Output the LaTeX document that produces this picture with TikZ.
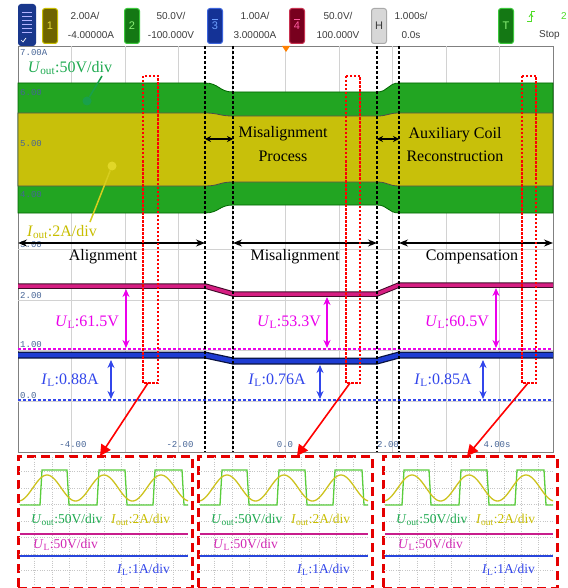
\documentclass[tikz,border=0pt]{standalone}
\usepackage{fontspec}
\setmainfont{Liberation Serif}
\newfontfamily\hdrfont{Liberation Sans}
\newfontfamily\axfont{Liberation Mono}
\usetikzlibrary{arrows.meta}
\definecolor{bandgreen}{RGB}{34,165,34}
\definecolor{bandyellow}{RGB}{200,192,10}
\definecolor{tracemag}{RGB}{214,30,130}
\definecolor{traceblue}{RGB}{30,60,210}
\definecolor{txtgreen}{RGB}{30,170,80}
\definecolor{txtyellow}{RGB}{200,190,0}
\definecolor{txtmag}{RGB}{235,0,235}
\definecolor{txtblue}{RGB}{50,70,235}
\definecolor{axcol}{RGB}{70,100,150}
\definecolor{gridcol}{RGB}{210,210,210}
\definecolor{hdrtxt}{RGB}{60,60,60}
\definecolor{sqgreen}{RGB}{90,205,60}
\definecolor{sinyellow}{RGB}{205,195,30}
\definecolor{iconblue}{RGB}{25,55,140}
\definecolor{c1fill}{RGB}{110,100,0}
\definecolor{c1draw}{RGB}{200,190,0}
\definecolor{c1text}{RGB}{230,220,60}
\definecolor{c2fill}{RGB}{20,120,20}
\definecolor{c2draw}{RGB}{60,200,60}
\definecolor{c2text}{RGB}{140,240,120}
\definecolor{c3fill}{RGB}{20,50,150}
\definecolor{c3draw}{RGB}{60,100,220}
\definecolor{c3text}{RGB}{110,160,255}
\definecolor{c4fill}{RGB}{120,0,30}
\definecolor{c4draw}{RGB}{200,50,80}
\definecolor{c4text}{RGB}{255,90,160}
\definecolor{chfill}{RGB}{215,215,215}
\definecolor{chdraw}{RGB}{170,170,170}
\definecolor{trigcol}{RGB}{80,220,40}
\definecolor{gdotcol}{RGB}{25,160,75}
\definecolor{ydotcol}{RGB}{225,215,40}
\definecolor{ylinecol}{RGB}{215,205,30}
\definecolor{inmag}{RGB}{200,30,140}
\definecolor{inblue}{RGB}{40,70,220}
\definecolor{inmagtxt}{RGB}{210,40,180}
\newcommand\myUout{\textit{U}\textsubscript{out}}
\newcommand\myIout{\textit{I}\textsubscript{out}}
\newcommand\myUL{\textit{U}\textsubscript{L}}
\newcommand\myIL{\textit{I}\textsubscript{L}}
\begin{document}
\begin{tikzpicture}[x=1pt,y=-1pt,
  lbl/.style={font=\fontsize{16}{18}\selectfont, inner sep=0},
  inlbl/.style={font=\fontsize{13.5}{15}\selectfont, inner sep=0},
  ax/.style={font=\axfont\fontsize{9}{10}\selectfont, text=axcol, inner sep=0},
  hdr/.style={font=\hdrfont\fontsize{10}{11}\selectfont, text=hdrtxt, inner sep=0},
  chbox/.style={rounded corners=2.5pt, minimum width=15pt, minimum height=35pt, inner sep=0, line width=1pt, font=\hdrfont\fontsize{11}{12}\selectfont, anchor=north west},
  blkdash/.style={black, line width=1.4pt, dash pattern=on 3pt off 2pt},
  reddot/.style={red, line width=1.2pt, dash pattern=on 2.5pt off 1.5pt},
  insetbox/.style={draw=red!90!black, line width=2.5pt, dash pattern=on 9pt off 5pt, fill=white, anchor=north west, inner sep=0, minimum width=174pt, minimum height=132pt},
  redarrow/.style={-{Triangle[length=11pt,width=11pt]}, red, line width=1.6pt},
  dblarrow/.style={{Stealth[length=9pt,width=7pt]}-{Stealth[length=9pt,width=7pt]}, line width=1.3pt},
  smallarrow/.style={{Stealth[length=6pt,width=6pt]}-{Stealth[length=6pt,width=6pt]}, line width=1.3pt},
  vmag/.style={{Stealth[length=8pt,width=7pt]}-{Stealth[length=8pt,width=7pt]}, line width=1.3pt, txtmag},
  vblue/.style={{Stealth[length=8pt,width=7pt]}-{Stealth[length=8pt,width=7pt]}, line width=1.3pt, txtblue}]
\useasboundingbox (0,0) rectangle (567,588);
\fill[white] (0,0) rectangle (567,588);
% ---------- header ----------
\fill[rounded corners=3pt, iconblue] (18,4) rectangle (36,46);
\foreach \yy in {12,16,20,24,28,32}{\draw[white!70!blue, line width=0.6pt] (22,\yy) -- (32,\yy);}
\draw[white, line width=0.7pt] (21,40) -- (23,42) -- (26,38);
\node[chbox, fill=c1fill, draw=c1draw, text=c1text] (b1) at (42,8) {1};
\node[hdr] (h1a) at (85,16) {2.00A/};
\node[hdr] (h1b) at (91,35) {-4.00000A};
\node[chbox, fill=c2fill, draw=c2draw, text=c2text] (b2) at (124,8) {2};
\node[hdr] (h2a) at (171,16) {50.0V/};
\node[hdr] (h2b) at (171,35) {-100.000V};
\node[chbox, fill=c3fill, draw=c3draw, text=c3text] (b3) at (207,8) {3};
\draw[c3text, line width=0.8pt] (212,19) -- (218,19);
\node[hdr] (h3a) at (255,16) {1.00A/};
\node[hdr] (h3b) at (255,35) {3.00000A};
\node[chbox, fill=c4fill, draw=c4draw, text=c4text] (b4) at (289,8) {4};
\draw[c4text, line width=0.8pt] (294,19) -- (300,19);
\node[hdr] (h4a) at (338,16) {50.0V/};
\node[hdr] (h4b) at (338,35) {100.000V};
\node[chbox, fill=chfill, draw=chdraw, text=hdrtxt] (bh) at (371,8) {H};
\node[hdr] (hha) at (411,16) {1.000s/};
\node[hdr] (hhb) at (411,35) {0.0s};
\node[chbox, fill=c2fill, draw=c2draw, text=c2text] (bt) at (498,8) {T};
\draw[trigcol, line width=0.8pt] (527,21) -- (531,21) -- (531,11) -- (535,11);
\draw[trigcol, line width=0.8pt] (529,17) -- (531,14) -- (533,17);
\node[hdr, text=trigcol] (htrig) at (564,16) {2};
\node[hdr, anchor=west] (hstop) at (539,35) {Stop};
% ---------- screen ----------
\draw[gray, line width=0.8pt] (18,46) rectangle (553,452);
\foreach \k in {1,...,9}{\draw[gridcol, line width=0.5pt] ({18+53.5*\k},46) -- ({18+53.5*\k},452);}
\foreach \k in {1,...,7}{\draw[gridcol, line width=0.5pt] (18,{46+50.75*\k}) -- (553,{46+50.75*\k});}
\fill[orange] (282,46) -- (290,46) -- (286,52) -- cycle;
% green band
\fill[bandgreen, draw=black!60!green, line width=0.8pt] (18,83) -- (205,83) .. controls (219,83) and (219,92) .. (233,92) -- (377,92) .. controls (388,92) and (388,83) .. (399,83) -- (553,83) -- (553,213) -- (399,213) .. controls (388,213) and (388,205) .. (377,205) -- (233,205) .. controls (219,205) and (219,213) .. (205,213) -- (18,213) -- cycle;
% yellow band
\fill[bandyellow, draw=black!70, line width=0.8pt] (18,113) -- (205,113) .. controls (219,113) and (219,116) .. (233,116) -- (377,116) .. controls (388,116) and (388,113) .. (399,113) -- (553,113) -- (553,186) -- (399,186) .. controls (388,186) and (388,182) .. (377,182) -- (233,182) .. controls (219,182) and (219,186) .. (205,186) -- (18,186) -- cycle;
% traces
\draw[black!70!tracemag, line width=5.5pt] (18,286) -- (205,286) -- (233,294) -- (377,294) -- (399,285) -- (553,285);
\draw[tracemag, line width=3.5pt] (18,286) -- (205,286) -- (233,294) -- (377,294) -- (399,285) -- (553,285);
\draw[black!70!traceblue, line width=7pt] (18,355) -- (205,355) -- (233,361) -- (377,361) -- (399,355) -- (553,355);
\draw[traceblue, line width=4.5pt] (18,355) -- (205,355) -- (233,361) -- (377,361) -- (399,355) -- (553,355);
\draw[txtmag, line width=1.3pt, dash pattern=on 3pt off 2pt] (18,349) -- (553,349);
\draw[txtblue, line width=1.3pt, dash pattern=on 3pt off 2pt] (18,400) -- (553,400);
% axis labels
\node[ax, anchor=west] (a7) at (20,53) {7.00A};
\node[ax, anchor=west] (a6) at (20,93) {6.00};
\node[ax, anchor=west] (a5) at (20,144) {5.00};
\node[ax, anchor=west] (a4) at (20,195) {4.00};
\node[ax, anchor=west] (a3) at (20,245) {3.00};
\node[ax, anchor=west] (a2) at (20,296) {2.00};
\node[ax, anchor=west] (a1) at (20,345) {1.00};
\node[ax, anchor=west] (a0) at (20,396) {0.0};
\node[ax] (t1) at (73,445) {-4.00};
\node[ax] (t2) at (180,445) {-2.00};
\node[ax] (t3) at (285,445) {0.0};
\node[ax] (t4) at (388,445) {2.00};
\node[ax] (t5) at (497,445) {4.00s};
% black dashed separators
\foreach \xx/\nm in {205/d1,233/d2,377/d3,399/d4}{
  \coordinate (\nm t) at (\xx,46); \coordinate (\nm b) at (\xx,452);
  \draw[blkdash] (\nm t) -- (\nm b);}
% horizontal region arrows
\coordinate (l0) at (18,243); \coordinate (l1) at (205,243);
\coordinate (l2) at (233,243); \coordinate (l3) at (377,243);
\coordinate (l4) at (399,243); \coordinate (l5) at (553,243);
\draw[dblarrow] (l0) -- (l1);
\draw[dblarrow] (l2) -- (l3);
\draw[dblarrow] (l4) -- (l5);
\coordinate (p0) at (205,139); \coordinate (p1) at (233,139);
\coordinate (p2) at (377,139); \coordinate (p3) at (399,139);
\draw[smallarrow] (p0) -- (p1);
\draw[smallarrow] (p2) -- (p3);
% labels top
\node[lbl, text=txtgreen] (uoutl) at (70,68) {\myUout:50V/div};
\node[lbl, text=txtyellow] (ioutl) at (62,232) {\myIout:2A/div};
\node[circle, fill=gdotcol, minimum size=9pt, inner sep=0] (gdot) at (87,101) {};
\coordinate (gend) at (102,76);
\draw[gdotcol, line width=1.5pt] (gdot) -- (gend);
\node[circle, fill=ydotcol, minimum size=9pt, inner sep=0] (ydot) at (112,166) {};
\coordinate (yend) at (90,222);
\draw[ylinecol, line width=1.5pt] (ydot) -- (yend);
\node[lbl] (mis1) at (283,134) {Misalignment};
\node[lbl] (mis2) at (283,156) {Process};
\node[lbl] (aux1) at (455,135) {Auxiliary Coil};
\node[lbl] (aux2) at (455,156) {Reconstruction};
\node[lbl] (alg) at (103,257) {Alignment};
\node[lbl] (misg) at (295,257) {Misalignment};
\node[lbl] (comp) at (472,257) {Compensation};
% UL / IL arrows
\coordinate (m1t) at (126,289); \coordinate (m1b) at (126,348);
\coordinate (m2t) at (327,297); \coordinate (m2b) at (327,348);
\coordinate (m3t) at (496,288); \coordinate (m3b) at (496,348);
\draw[vmag] (m1t) -- (m1b);
\draw[vmag] (m2t) -- (m2b);
\draw[vmag] (m3t) -- (m3b);
\coordinate (i1t) at (111,360); \coordinate (i1b) at (111,399);
\coordinate (i2t) at (320,365); \coordinate (i2b) at (320,399);
\coordinate (i3t) at (483,360); \coordinate (i3b) at (483,399);
\draw[vblue] (i1t) -- (i1b);
\draw[vblue] (i2t) -- (i2b);
\draw[vblue] (i3t) -- (i3b);
\node[lbl, text=txtmag] (ul1) at (87,322) {\myUL:61.5V};
\node[lbl, text=txtmag] (ul2) at (289,322) {\myUL:53.3V};
\node[lbl, text=txtmag] (ul3) at (457,322) {\myUL:60.5V};
\node[lbl, text=txtblue] (il1) at (70,380) {\myIL:0.88A};
\node[lbl, text=txtblue] (il2) at (277,380) {\myIL:0.76A};
\node[lbl, text=txtblue] (il3) at (443,380) {\myIL:0.85A};
% red dotted windows
\draw[reddot] (143,76) rectangle (158,383);
\draw[reddot] (346,76) rectangle (360,383);
\draw[reddot] (522,76) rectangle (536,383);
% ---------- insets ----------
\foreach \xo/\sh/\n in {17/0/1,197/0/2,382/-3/3}{
  \node[insetbox] (in\n) at (\xo,455) {};
  \foreach \k in {1,...,9}{\draw[gray!45, line width=0.3pt, dotted] ({\xo+17.4*\k},457) -- ({\xo+17.4*\k},585);}
  \foreach \k in {1,...,7}{\draw[gray!45, line width=0.3pt, dotted] (\xo+2,{455+16.5*\k}) -- (\xo+172,{455+16.5*\k});}
  \draw[sqgreen, line width=1.3pt] (\xo+3,505) -- (\xo+23+\sh,505) -- (\xo+25+\sh,470) -- (\xo+50+\sh,470) -- (\xo+52+\sh,505) -- (\xo+80+\sh,505) -- (\xo+82+\sh,470) -- (\xo+108+\sh,470) -- (\xo+110+\sh,505) -- (\xo+136+\sh,505) -- (\xo+138+\sh,470) -- (\xo+165+\sh,470) -- (\xo+167+\sh,505) -- (\xo+171,505);
  \draw[sinyellow, line width=1.3pt] plot[domain=3:171, samples=120, smooth] ({\xo+\x},{488-13*cos((\x-30)*6.31579)});
  \draw[inmag, line width=1.3pt] (\xo+3,534) -- (\xo+171,534);
  \draw[inblue, line width=1.3pt] (\xo+3,556) -- (\xo+171,556);
  \node[inlbl, text=txtgreen, anchor=west] (iu\n) at (\xo+14,520) {\myUout:50V/div};
  \node[inlbl, text=txtyellow, anchor=west] (ii\n) at (\xo+94,520) {\myIout:2A/div};
  \node[inlbl, text=inmagtxt, anchor=west] (iul\n) at (\xo+16,545) {\myUL:50V/div};
  \node[inlbl, text=txtblue, anchor=west] (iil\n) at (\xo+100,570) {\myIL:1A/div};
}
% red arrows
\coordinate (r1) at (148,383); \coordinate (e1) at (100,456);
\coordinate (r2) at (350,383); \coordinate (e2) at (297,456);
\coordinate (r3) at (528,383); \coordinate (e3) at (467,456);
\draw[redarrow] (r1) -- (e1);
\draw[redarrow] (r2) -- (e2);
\draw[redarrow] (r3) -- (e3);
\end{tikzpicture}
\end{document}
